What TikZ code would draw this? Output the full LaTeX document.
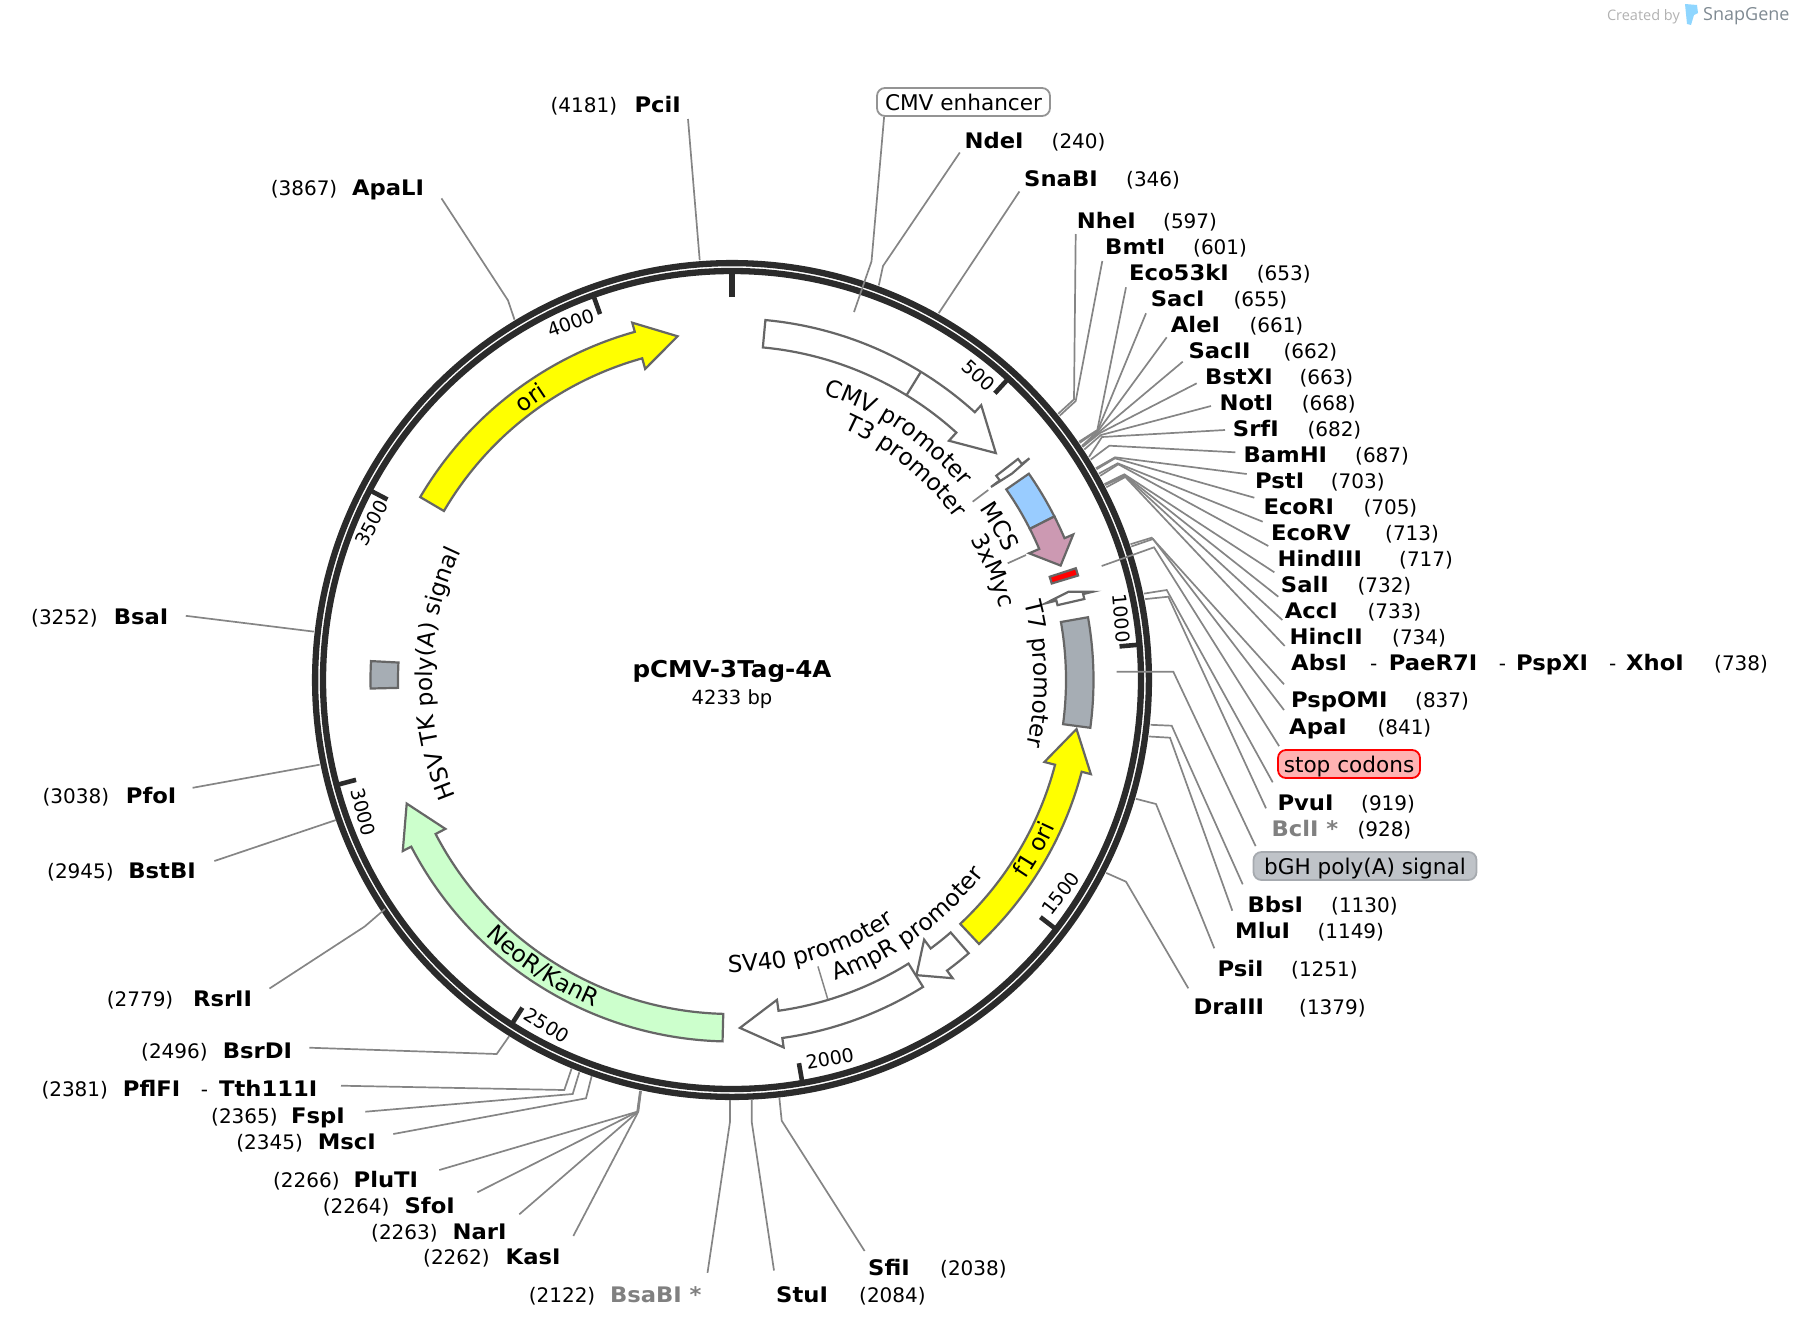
\documentclass[tikz,border=0pt]{standalone}
\usepackage{fontspec}
\setmainfont[BoldFeatures={FakeStretch=1.06}]{DejaVu Sans}
\newfontfamily\logofont{Open Sans}
\usetikzlibrary{calc}
\usetikzlibrary{decorations.text}
\newcommand{\sitefont}{\fontsize{21.4}{22}\bfseries\selectfont}
\newcommand{\posfont}{\fontsize{20}{20}\selectfont}
\newcommand{\featfont}{\fontsize{23.3}{24}\selectfont}
% arrow on the feature ring: colour, start, head base, tip (degrees clockwise from the top)
\newcommand{\featarrow}[4]{\draw[feat,fill=#1] (90-#2:334) arc[start angle=90-#2,end angle=90-#3,radius=334] -- (90-#3:323) -- (90-#4:348) -- (90-#3:371) -- (90-#3:361.5) arc[start angle=90-#3,end angle=90-#2,radius=361.5] -- cycle;}
% plain segment on the feature ring
\newcommand{\featbox}[3]{\draw[feat,fill=#1] (90-#2:334) arc[start angle=90-#2,end angle=90-#3,radius=334] -- (90-#3:361.5) arc[start angle=90-#3,end angle=90-#2,radius=361.5] -- cycle;}
% text bent along the circle: radius, from, to, text
\newcommand{\featlabel}[4]{\path[decorate,decoration={text along path,text align=center,text={|\featfont|#4}}] (90-#2:#1) arc[start angle=90-#2,end angle=90-#3,radius=#1];}
\definecolor{ringcol}{HTML}{2B2B2B}
\definecolor{linecol}{HTML}{858585}
\definecolor{edgecol}{HTML}{666666}
\definecolor{mauve}{HTML}{CC99B2}
\definecolor{skyblue}{HTML}{99CCFF}
\definecolor{slatebox}{HTML}{A6ADB4}
\definecolor{palegreen}{HTML}{CCFFCC}
\definecolor{brightyellow}{HTML}{FFFF00}
\definecolor{tagfill}{HTML}{BFC3C8}
\definecolor{tagedge}{HTML}{A6AAAF}
\definecolor{logoblue}{HTML}{8FD6FF}
\definecolor{logogrey}{HTML}{7F8A92}
\tikzset{
  site/.style={font=\sitefont,inner sep=0pt,text height=17pt,text depth=0pt},
  sitepos/.style={font=\posfont,inner sep=0pt,text height=17pt,text depth=0pt,anchor=west},
  fadedsite/.style={site,text=black!50},
  conn/.style={draw=linecol,line width=1.7pt},
  feat/.style={draw=edgecol,line width=2.2pt,line join=miter},
  ring/.style={draw=ringcol,line width=6.3pt},
  ticklabel/.style={font=\fontsize{19}{19}\selectfont,inner sep=0pt},
  ringtick/.style={draw=ringcol,line width=4.6pt},
  tag/.style={font=\fontsize{21.6}{22}\selectfont,rounded corners=8pt,line width=1.8pt,inner sep=0pt,text height=16pt,text depth=0pt}
}
\begin{document}
\begin{tikzpicture}[x=1pt,y=1pt]
  \useasboundingbox (0,0) rectangle (1798,-1328);
  \coordinate (c) at (732,-680);

  % Ring, ticks, features
  \begin{scope}[shift={(c)}]
    \draw[ring] (0,0) circle[radius=416.9];
    \draw[ring] (0,0) circle[radius=409];

    \draw[ringtick,line width=5.6pt] (90-0:383) -- (90-0:407);
    \draw[ringtick] (90-42.52:389) -- (90-42.52:407);
    \draw[ringtick] (90-85.04:389) -- (90-85.04:407);
    \draw[ringtick] (90-127.56:389) -- (90-127.56:407);
    \draw[ringtick] (90-170.09:389) -- (90-170.09:407);
    \draw[ringtick] (90-212.61:389) -- (90-212.61:407);
    \draw[ringtick] (90-255.13:389) -- (90-255.13:407);
    \draw[ringtick] (90-297.65:389) -- (90-297.65:407);
    \draw[ringtick] (90-340.17:389) -- (90-340.17:407);

    \node[ticklabel,rotate=-42.5] (tick500) at (90-39:392) {500};
    \node[ticklabel,rotate=-85] (tick1000) at (90-81:394) {1000};
    \node[ticklabel,rotate=52.4] (tick1500) at (90-123:392) {1500};
    \node[ticklabel,rotate=9.9] (tick2000) at (90-165.5:391) {2000};
    \node[ticklabel,rotate=-32.6] (tick2500) at (90-208.2:392) {2500};
    \node[ticklabel,rotate=-75.1] (tick3000) at (90-250.3:392) {3000};
    \node[ticklabel,rotate=62.3] (tick3500) at (90-293.5:393) {3500};
    \node[ticklabel,rotate=19.8] (tick4000) at (90-335.7:392) {4000};

    % Arrows
    \featarrow{white}{5.3}{42.2}{49.3}
    \draw[feat] (90-31.5:334) -- (90-31.5:361.5);
    \featarrow{white}{52.3}{53.3}{53.6}
    \featbox{skyblue}{55.2}{63.1}
    \featarrow{mauve}{63.1}{66.9}{70.8}
    \featbox{red}{72}{73.2}
    \featarrow{white}{77.05}{76.25}{75.3}
    \featbox{slatebox}{80}{97.6}
    \featarrow{brightyellow}{136.9}{104.7}{98.1}
    \featarrow{white}{139.1}{143.5}{148}
    \featarrow{white}{148.1}{172}{178.7}
    \featarrow{palegreen}{181.5}{242.55}{249.2}
    \featbox{slatebox}{268.65}{273}
    \featarrow{brightyellow}{300.4}{344.4}{351}

    % Feature names
    \featlabel{300}{-6.1}{73.9}{CMV promoter}
    \featlabel{275}{-0.9}{79.1}{T3 promoter}
    \featlabel{301}{40.2}{80.2}{MCS}
    \featlabel{277}{47.3}{87.3}{3xMyc}
    \featlabel{302}{48.9}{128.9}{T7 promoter}
    \featlabel{300}{231.3}{311.3}{HSV TK poly(A) signal}
    \featlabel{339}{304.5}{344.5}{ori}
    \featlabel{355}{139.3}{99.3}{f1 ori}
    \featlabel{318}{184.3}{104.3}{AmpR promoter}
    \featlabel{292}{203.5}{123.5}{SV40 promoter}
    \featlabel{355}{243.4}{183.4}{NeoR/KanR}

    \draw[conn,line width=1.5pt] (90-163.3:299) -- (90-163.3:333);
  \end{scope}

  % Name
  \node[font=\fontsize{23.2}{24}\bfseries\selectfont] (plasmid) at (732,-671) {pCMV-3Tag-4A};
  \node[font=\fontsize{19.5}{20}\selectfont] (length) at (732,-699) {4233 bp};

  % Short feature leads
  \coordinate (T3in) at (972.7,-501.7); \coordinate (T3out) at (988.3,-490);
  \draw[conn] (T3in) -- (T3out);
  \coordinate (Mycin) at (1007.7,-563.3); \coordinate (Mycout) at (1026,-555);
  \draw[conn] (Mycin) -- (Mycout);

  % Tagged features
  \node[tag,draw=edgecol!70,fill=white,minimum width=173pt,minimum height=28pt] (CMVenhancer) at (963.5,-102) {CMV enhancer};
  \coordinate (CMVin) at (854,-312); \coordinate (CMVbend) at (871.5,-261.4);
  \draw[conn] (CMVin) -- (CMVbend) -- ($(CMVenhancer.south west)+(8,0)$);

  \node[tag,draw=red,fill=red!30,minimum width=142pt,minimum height=28pt] (stopcodons) at (1349,-764) {stop codons};
  \coordinate (stopin) at (1101.7,-566); \coordinate (stopbend) at (1154,-547.3);
  \draw[conn] (stopin) -- (stopbend) -- ($(stopcodons.north west)+(2,3)$);

  \node[tag,draw=tagedge,fill=tagfill,minimum width=223pt,minimum height=28pt] (bGH) at (1365,-866) {bGH poly(A) signal};
  \coordinate (bGHin) at (1116.7,-671.7); \coordinate (bGHbend) at (1173.3,-671.7);
  \draw[conn] (bGHin) -- (bGHbend) -- ($(bGH.north west)+(3,5)$);

  % Sites, right side
  \node[site,anchor=west] (NdeI) at (964.4,-139.9) {NdeI};
  \node[sitepos] (NdeIpos) at (1051.5,-139.9) {(240)};
  \coordinate (NdeIring) at (878.8,-285.4); \coordinate (NdeIbend) at (883,-266);
  \draw[conn] (NdeIring) -- (NdeIbend) -- ($(NdeI.west)+(-4.6,-12.6)$);

  \node[site,anchor=west] (SnaBI) at (1024,-177.7) {SnaBI};
  \node[sitepos] (SnaBIpos) at (1126,-177.7) {(346)};
  \coordinate (SnaBIring) at (938.7,-313.2);
  \draw[conn] (SnaBIring) -- ($(SnaBI.west)+(-4.6,-13.8)$);

  \node[site,anchor=west] (NheI) at (1076.7,-220.2) {NheI};
  \node[sitepos] (NheIpos) at (1163,-220.2) {(597)};
  \coordinate (NheIring) at (1058.2,-413.8); \coordinate (NheIbend) at (1074,-399.3);
  \draw[conn] (NheIring) -- (NheIbend) -- ($(NheI.west)+(-1,-13.8)$);

  \node[site,anchor=west] (BmtI) at (1105,-246) {BmtI};
  \node[sitepos] (BmtIpos) at (1193,-246) {(601)};
  \coordinate (BmtIring) at (1059.7,-415.7); \coordinate (BmtIbend) at (1075.7,-401);
  \draw[conn] (BmtIring) -- (BmtIbend) -- ($(BmtI.west)+(-2.7,-15)$);

  \node[site,anchor=west] (Eco53kI) at (1129,-272.3) {Eco53kI};
  \node[sitepos] (Eco53kIpos) at (1256.7,-272.3) {(653)};
  \coordinate (Eco53kIring) at (1079.1,-441.7); \coordinate (Eco53kIbend) at (1097.3,-430);
  \draw[conn] (Eco53kIring) -- (Eco53kIbend) -- ($(Eco53kI.west)+(-3,-15)$);

  \node[site,anchor=west] (SacI) at (1150.7,-298.3) {SacI};
  \node[sitepos] (SacIpos) at (1233.3,-298.3) {(655)};
  \coordinate (SacIring) at (1079.8,-442.8); \coordinate (SacIbend) at (1097.6,-430.5);
  \draw[conn] (SacIring) -- (SacIbend) -- ($(SacI.west)+(-4.7,-15)$);

  \node[site,anchor=west] (AleI) at (1170.7,-324.3) {AleI};
  \node[sitepos] (AleIpos) at (1249.3,-324.3) {(661)};
  \coordinate (AleIring) at (1081.9,-445.9); \coordinate (AleIbend) at (1098,-431);
  \draw[conn] (AleIring) -- (AleIbend) -- ($(AleI.west)+(-4,-13)$);

  \node[site,anchor=west] (SacII) at (1188.3,-350) {SacII};
  \node[sitepos] (SacIIpos) at (1283.3,-350) {(662)};
  \coordinate (SacIIring) at (1082.3,-446.4); \coordinate (SacIIbend) at (1099,-432);
  \draw[conn] (SacIIring) -- (SacIIbend) -- ($(SacII.west)+(-5.6,-11.7)$);

  \node[site,anchor=west] (BstXI) at (1205,-376) {BstXI};
  \node[sitepos] (BstXIpos) at (1299.3,-376) {(663)};
  \coordinate (BstXIring) at (1082.6,-446.9); \coordinate (BstXIbend) at (1100,-433);
  \draw[conn] (BstXIring) -- (BstXIbend) -- ($(BstXI.west)+(-8.3,-7.3)$);

  \node[site,anchor=west] (NotI) at (1219.3,-402) {NotI};
  \node[sitepos] (NotIpos) at (1301.7,-402) {(668)};
  \coordinate (NotIring) at (1084.3,-449.5); \coordinate (NotIbend) at (1101,-435);
  \draw[conn] (NotIring) -- (NotIbend) -- ($(NotI.west)+(-8.3,-4)$);

  \node[site,anchor=west] (SrfI) at (1232.7,-428.3) {SrfI};
  \node[sitepos] (SrfIpos) at (1307.3,-428.3) {(682)};
  \coordinate (SrfIring) at (1089,-456.9); \coordinate (SrfIbend) at (1102,-437);
  \draw[conn] (SrfIring) -- (SrfIbend) -- ($(SrfI.west)+(-7.7,-1.7)$);

  \node[site,anchor=west] (BamHI) at (1243.3,-454.3) {BamHI};
  \node[sitepos] (BamHIpos) at (1355,-454.3) {(687)};
  \coordinate (BamHIring) at (1090.7,-459.6); \coordinate (BamHIbend) at (1109.3,-445.7);
  \draw[conn] (BamHIring) -- (BamHIbend) -- ($(BamHI.west)+(-8,2)$);

  \node[site,anchor=west] (PstI) at (1255,-480) {PstI};
  \node[sitepos] (PstIpos) at (1330.7,-480) {(703)};
  \coordinate (PstIring) at (1095.9,-468.2); \coordinate (PstIbend) at (1115,-457.3);
  \draw[conn] (PstIring) -- (PstIbend) -- ($(PstI.west)+(-8.3,6)$);

  \node[site,anchor=west] (EcoRI) at (1263.3,-505.7) {EcoRI};
  \node[sitepos] (EcoRIpos) at (1363.3,-505.7) {(705)};
  \coordinate (EcoRIring) at (1096.5,-469.3); \coordinate (EcoRIbend) at (1115,-458.3);
  \draw[conn] (EcoRIring) -- (EcoRIbend) -- ($(EcoRI.west)+(-9,8)$);

  \node[site,anchor=west] (EcoRV) at (1271,-531.7) {EcoRV};
  \node[sitepos] (EcoRVpos) at (1385,-531.7) {(713)};
  \coordinate (EcoRVring) at (1098.9,-473.6); \coordinate (EcoRVbend) at (1117.7,-463.3);
  \draw[conn] (EcoRVring) -- (EcoRVbend) -- ($(EcoRV.west)+(-8.3,10)$);

  \node[site,anchor=west] (HindIII) at (1277.3,-558) {HindIII};
  \node[sitepos] (HindIIIpos) at (1399,-558) {(717)};
  \coordinate (HindIIIring) at (1100.2,-475.8); \coordinate (HindIIIbend) at (1118.3,-464.3);
  \draw[conn] (HindIIIring) -- (HindIIIbend) -- ($(HindIII.west)+(-9,12)$);

  \node[site,anchor=west] (SalI) at (1280.7,-584) {SalI};
  \node[sitepos] (SalIpos) at (1357.3,-584) {(732)};
  \coordinate (SalIring) at (1104.6,-484); \coordinate (SalIbend) at (1124.3,-474.3);
  \draw[conn] (SalIring) -- (SalIbend) -- ($(SalI.west)+(-6.4,11.7)$);

  \node[site,anchor=west] (AccI) at (1284.7,-610) {AccI};
  \node[sitepos] (AccIpos) at (1367.3,-610) {(733)};
  \coordinate (AccIring) at (1104.9,-484.6); \coordinate (AccIbend) at (1124.6,-475);
  \draw[conn] (AccIring) -- (AccIbend) -- ($(AccI.west)+(-6.4,13.3)$);

  \node[site,anchor=west] (HincII) at (1289.3,-636) {HincII};
  \node[sitepos] (HincIIpos) at (1392,-636) {(734)};
  \coordinate (HincIIring) at (1105.2,-485.1); \coordinate (HincIIbend) at (1125,-476);
  \draw[conn] (HincIIring) -- (HincIIbend) -- ($(HincII.west)+(-7,16)$);

  \node[site,anchor=west] (AbsI) at (1291,-662) {AbsI};
  \node[sitepos] (dashA) at (1370,-662) {-};
  \node[site,anchor=west] (PaeR7I) at (1388.6,-662) {PaeR7I};
  \node[sitepos] (dashB) at (1498.7,-662) {-};
  \node[site,anchor=west] (PspXI) at (1516,-662) {PspXI};
  \node[sitepos] (dashC) at (1609,-662) {-};
  \node[site,anchor=west] (XhoI) at (1626,-662) {XhoI};
  \node[sitepos] (XhoIpos) at (1714,-662) {(738)};
  \coordinate (AbsIring) at (1106.3,-487.3); \coordinate (AbsIbend) at (1125.3,-477);
  \draw[conn] (AbsIring) -- (AbsIbend) -- ($(AbsI.west)+(-6.3,16)$);

  \node[site,anchor=west] (PspOMI) at (1291,-699.3) {PspOMI};
  \node[sitepos] (PspOMIpos) at (1415,-699.3) {(837)};
  \coordinate (PspOMIring) at (1130.5,-544.2); \coordinate (PspOMIbend) at (1151.7,-537.7);
  \draw[conn] (PspOMIring) -- (PspOMIbend) -- ($(PspOMI.west)+(-7,15)$);

  \node[site,anchor=west] (ApaI) at (1289,-725.7) {ApaI};
  \node[sitepos] (ApaIpos) at (1377.3,-725.7) {(841)};
  \coordinate (ApaIring) at (1131.3,-546.5); \coordinate (ApaIbend) at (1153,-539);
  \draw[conn] (ApaIring) -- (ApaIbend) -- ($(ApaI.west)+(-5,15.7)$);

  \node[site,anchor=west] (PvuI) at (1277.3,-801.7) {PvuI};
  \node[sitepos] (PvuIpos) at (1361,-801.7) {(919)};
  \coordinate (PvuIring) at (1144,-593.6); \coordinate (PvuIbend) at (1166.7,-590);
  \draw[conn] (PvuIring) -- (PvuIbend) -- ($(PvuI.west)+(-4.6,19.4)$);

  \node[fadedsite,anchor=west] (BclI) at (1271.3,-828.3) {BclI *};
  \node[sitepos] (BclIpos) at (1357.3,-828.3) {(928)};
  \coordinate (BclIring) at (1145.2,-599.1); \coordinate (BclIbend) at (1168.3,-596.7);
  \draw[conn] (BclIring) -- (BclIbend) -- ($(BclI.west)+(-5.3,20)$);

  \node[site,anchor=west] (BbsI) at (1247.3,-904) {BbsI};
  \node[sitepos] (BbsIpos) at (1331,-904) {(1130)};
  \coordinate (BbsIring) at (1150.6,-724.8); \coordinate (BbsIbend) at (1171.7,-725.7);
  \draw[conn] (BbsIring) -- (BbsIbend) -- ($(BbsI.west)+(-4.6,19.7)$);

  \node[site,anchor=west] (MluI) at (1235,-930) {MluI};
  \node[sitepos] (MluIpos) at (1317.3,-930) {(1149)};
  \coordinate (MluIring) at (1149.2,-736.5); \coordinate (MluIbend) at (1170,-737.7);
  \draw[conn] (MluIring) -- (MluIbend) -- ($(MluI.west)+(-2.7,19.3)$);

  \node[site,anchor=west] (PsiI) at (1217.3,-968.3) {PsiI};
  \node[sitepos] (PsiIpos) at (1291,-968.3) {(1251)};
  \coordinate (PsiIring) at (1135.9,-798.8); \coordinate (PsiIbend) at (1156,-804);
  \draw[conn] (PsiIring) -- (PsiIbend) -- ($(PsiI.west)+(-3,20)$);

  \node[site,anchor=west] (DraIII) at (1193.3,-1006) {DraIII};
  \node[sitepos] (DraIIIpos) at (1299,-1006) {(1379)};
  \coordinate (DraIIIring) at (1106.2,-872.9); \coordinate (DraIIIbend) at (1126,-881.7);
  \draw[conn] (DraIIIring) -- (DraIIIbend) -- ($(DraIII.west)+(-5,17.7)$);

  % Sites, bottom
  \node[site,anchor=west] (SfiI) at (868,-1267) {SfiI};
  \node[sitepos] (SfiIpos) at (940,-1267) {(2038)};
  \coordinate (SfiIring) at (779.3,-1097.3); \coordinate (SfiIbend) at (781.7,-1120.7);
  \draw[conn] (SfiIring) -- (SfiIbend) -- ($(SfiI.west)+(-3.4,16)$);

  \node[site,anchor=west] (StuI) at (776,-1293.5) {StuI};
  \node[sitepos] (StuIpos) at (859,-1293.5) {(2084)};
  \coordinate (StuIring) at (751.7,-1099.3); \coordinate (StuIbend) at (751.7,-1121.7);
  \draw[conn] (StuIring) -- (StuIbend) -- ($(StuI.west)+(-2,23)$);

  \node[fadedsite,anchor=east] (BsaBI) at (701.8,-1293.5) {BsaBI *};
  \node[sitepos] (BsaBIpos) at (528.6,-1293.5) {(2122)};
  \coordinate (BsaBIring) at (730,-1100); \coordinate (BsaBIbend) at (730,-1121.7);
  \draw[conn] (BsaBIring) -- (BsaBIbend) -- ($(BsaBI.east)+(5.7,20.7)$);

  % Sites, left side
  \node[site,anchor=east] (KasI) at (560.7,-1255.6) {KasI};
  \node[sitepos] (KasIpos) at (423,-1255.6) {(2262)};
  \coordinate (KasIring) at (641,-1091); \coordinate (KasIbend) at (638.3,-1111.7);
  \draw[conn] (KasIring) -- (KasIbend) -- ($(KasI.east)+(12.6,19.6)$);

  \node[site,anchor=east] (NarI) at (506.7,-1230.7) {NarI};
  \node[sitepos] (NarIpos) at (371,-1230.7) {(2263)};
  \coordinate (NarIring) at (640.7,-1091); \coordinate (NarIbend) at (638,-1111.7);
  \draw[conn] (NarIring) -- (NarIbend) -- ($(NarI.east)+(12.6,16.4)$);

  \node[site,anchor=east] (SfoI) at (455,-1205) {SfoI};
  \node[sitepos] (SfoIpos) at (322.7,-1205) {(2264)};
  \coordinate (SfoIring) at (640.4,-1091); \coordinate (SfoIbend) at (637.6,-1111.7);
  \draw[conn] (SfoIring) -- (SfoIbend) -- ($(SfoI.east)+(22.3,12.7)$);

  \node[site,anchor=east] (PluTI) at (418.3,-1178.7) {PluTI};
  \node[sitepos] (PluTIpos) at (272.9,-1178.7) {(2266)};
  \coordinate (PluTIring) at (640,-1091); \coordinate (PluTIbend) at (637.2,-1111.7);
  \draw[conn] (PluTIring) -- (PluTIbend) -- ($(PluTI.east)+(21,8.7)$);

  \node[site,anchor=east] (MscI) at (376,-1140.7) {MscI};
  \node[sitepos] (MscIpos) at (236.2,-1140.7) {(2345)};
  \coordinate (MscIring) at (591.7,-1076); \coordinate (MscIbend) at (586,-1098.3);
  \draw[conn] (MscIring) -- (MscIbend) -- ($(MscI.east)+(17.3,6.7)$);

  \node[site,anchor=east] (FspI) at (345,-1114.6) {FspI};
  \node[sitepos] (FspIpos) at (211,-1114.6) {(2365)};
  \coordinate (FspIring) at (579.3,-1072.3); \coordinate (FspIbend) at (572.7,-1094);
  \draw[conn] (FspIring) -- (FspIbend) -- ($(FspI.east)+(20.3,2.9)$);

  \node[site,anchor=east] (Tth111I) at (317.6,-1088) {Tth111I};
  \node[sitepos] (dashD) at (200.7,-1088) {-};
  \node[site,anchor=west] (PflFI) at (122.7,-1088) {PflFI};
  \node[sitepos] (PflFIpos) at (41.3,-1088) {(2381)};
  \coordinate (PflFIring) at (571.7,-1068.3); \coordinate (PflFIbend) at (564.3,-1090);
  \draw[conn] (PflFIring) -- (PflFIbend) -- ($(Tth111I.east)+(23.4,2.3)$);

  \node[site,anchor=east] (BsrDI) at (292.4,-1050.4) {BsrDI};
  \node[sitepos] (BsrDIpos) at (141,-1050.4) {(2496)};
  \coordinate (BsrDIring) at (509.3,-1036); \coordinate (BsrDIbend) at (496.7,-1054);
  \draw[conn] (BsrDIring) -- (BsrDIbend) -- ($(BsrDI.east)+(16.9,2.7)$);

  \node[site,anchor=east] (RsrII) at (252.3,-997.6) {RsrII};
  \node[sitepos] (RsrIIpos) at (106.6,-997.6) {(2779)};
  \coordinate (RsrIIring) at (385,-909); \coordinate (RsrIIbend) at (364.7,-926.5);
  \draw[conn] (RsrIIring) -- (RsrIIbend) -- ($(RsrII.east)+(17.2,9.1)$);

  \node[site,anchor=east] (BstBI) at (196,-870.3) {BstBI};
  \node[sitepos] (BstBIpos) at (47,-870.3) {(2945)};
  \coordinate (BstBIring) at (336,-820);
  \draw[conn] (BstBIring) -- ($(BstBI.east)+(18.4,9.3)$);

  \node[site,anchor=east] (PfoI) at (176.6,-794.7) {PfoI};
  \node[sitepos] (PfoIpos) at (42.4,-794.7) {(3038)};
  \coordinate (PfoIring) at (319.6,-764.7);
  \draw[conn] (PfoIring) -- ($(PfoI.east)+(16,6.9)$);

  \node[site,anchor=east] (BsaI) at (168.6,-615.8) {BsaI};
  \node[sitepos] (BsaIpos) at (31,-615.8) {(3252)};
  \coordinate (BsaIring) at (313.8,-631.6);
  \draw[conn] (BsaIring) -- ($(BsaI.east)+(17.2,0)$);

  \node[site,anchor=east] (ApaLI) at (424.3,-186.9) {ApaLI};
  \node[sitepos] (ApaLIpos) at (270.6,-186.9) {(3867)};
  \coordinate (ApaLIring) at (514.5,-319.6); \coordinate (ApaLIbend) at (508,-300.4);
  \draw[conn] (ApaLIring) -- (ApaLIbend) -- ($(ApaLI.east)+(17.2,-11.5)$);

  \node[site,anchor=east] (PciI) at (681,-104.3) {PciI};
  \node[sitepos] (PciIpos) at (550.4,-104.3) {(4181)};
  \coordinate (PciIring) at (699.7,-260.2);
  \draw[conn] (PciIring) -- ($(PciI.east)+(7,-14.7)$);

  % Credit
  \node[font=\logofont\fontsize{14.5}{15}\selectfont,text=black!30,inner sep=0pt,anchor=east] (created) at (1680,-16.5) {Created by};
  \node[font=\logofont\fontsize{18}{18}\selectfont,text=logogrey,inner sep=0pt,anchor=west] (snapgene) at (1703,-16.5) {SnapGene};
  \fill[logoblue] (1685,-4) -- (1697,-5) -- (1698,-13) -- (1694,-15) -- (1691,-25) -- (1687,-24) -- cycle;
\end{tikzpicture}
\end{document}
